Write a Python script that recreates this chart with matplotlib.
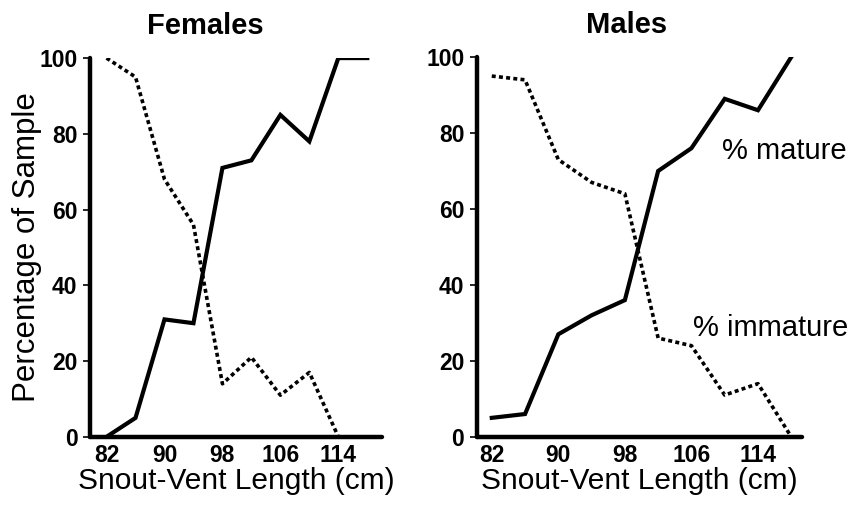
import matplotlib
matplotlib.use("Agg")
import matplotlib.pyplot as plt

plt.rcParams['font.family'] = ['Liberation Sans', 'DejaVu Sans']

# snout-vent length classes (cm)
svl = [82, 86, 90, 94, 98, 102, 106, 110, 114, 118]

# Females
fem_mature = [0, 5, 31, 30, 71, 73, 85, 78, 100, 100]
fem_immature = [100, 95, 68, 56, 14, 21, 11, 17, 0]

# Males
male_mature = [5, 6, 27, 32, 36, 70, 76, 89, 86, 100]
male_immature = [95, 94, 73, 67, 64, 26, 24, 11, 14, 0]

xticks = [82, 90, 98, 106, 114]
yticks = [0, 20, 40, 60, 80, 100]

fig = plt.figure(figsize=(8.56, 5.05), dpi=100)
ax1 = fig.add_axes([0.105, 0.135, 0.341, 0.750])
ax2 = fig.add_axes([0.557, 0.135, 0.380, 0.752])

def style(ax, xlim, title, title_x):
    ax.set_xlim(*xlim)
    ax.set_ylim(0, 100)
    ax.set_xticks(xticks)
    ax.set_yticks(yticks)
    for s in ['top', 'right']:
        ax.spines[s].set_visible(False)
    for s in ['left', 'bottom']:
        ax.spines[s].set_linewidth(3.2)
        ax.spines[s].set_capstyle('round')
    ax.tick_params(axis='x', length=0, pad=5)
    ax.tick_params(axis='y', length=5, width=1.2, pad=4)
    for lbl in ax.get_xticklabels() + ax.get_yticklabels():
        lbl.set_fontsize(16.5)
        lbl.set_fontweight('bold')
    ax.set_xlabel('Snout-Vent Length (cm)', fontsize=21.5, labelpad=0)
    ax.set_title(title, fontsize=21, fontweight='bold', x=title_x, pad=17)

# Females
ax1.plot(svl, fem_mature, color='black', lw=3, solid_joinstyle='miter')
ax1.plot(svl[:len(fem_immature)], fem_immature, color='black', lw=2.6,
         linestyle=(0, (1.1, 0.9)))
style(ax1, (79.7, 120), 'Females', 0.394)
ax1.set_ylabel('Percentage of Sample', fontsize=22.5)
ax1.yaxis.set_label_coords(-0.165, 0.5)

# Males
ax2.plot(svl, male_mature, color='black', lw=3, solid_joinstyle='miter')
ax2.plot(svl, male_immature, color='black', lw=2.6, linestyle=(0, (1.1, 0.9)))
style(ax2, (80.2, 119.3), 'Males', 0.46)
ax2.text(0.754, 0.753, '% mature', transform=ax2.transAxes, fontsize=21,
         ha='left', va='center')
ax2.text(0.665, 0.287, '% immature', transform=ax2.transAxes, fontsize=21,
         ha='left', va='center')

fig.savefig('out.png', dpi=100)
